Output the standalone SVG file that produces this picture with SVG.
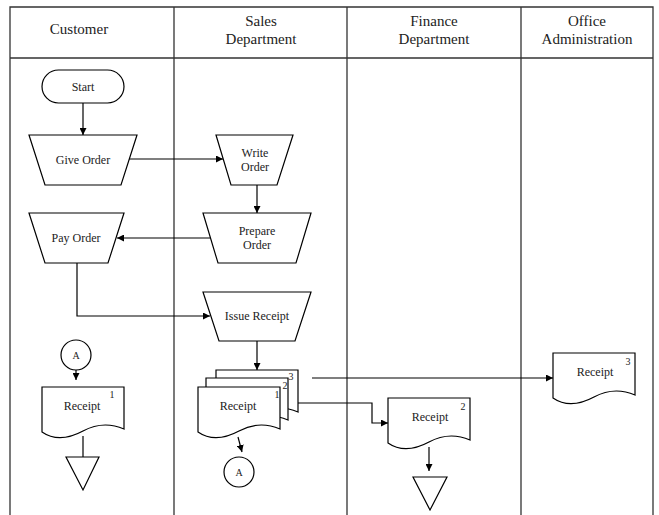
<svg xmlns="http://www.w3.org/2000/svg" width="659" height="515" viewBox="0 0 659 515">
<defs>
<marker id="ah" viewBox="0 0 10 10" refX="10" refY="5" markerWidth="7" markerHeight="7" markerUnits="userSpaceOnUse" orient="auto">
<path d="M0,0 L10,5 L0,10 Z" fill="#000"/>
</marker>
<path id="doc" d="M0,45 C13,54 28,51 41,44 C54,37 68,36 82,42 V0 H0 Z"/>
</defs>
<style>
.lane{fill:none;stroke:#333;stroke-width:1.3}
.shape{fill:#fff;stroke:#000;stroke-width:1.2}
.conn{fill:none;stroke:#000;stroke-width:1.2}
.hd{font-family:"Liberation Serif",serif;font-size:15px;fill:#222;text-anchor:middle}
.t{font-family:"Liberation Serif",serif;font-size:12px;fill:#222;text-anchor:middle}
.s{font-family:"Liberation Serif",serif;font-size:10px;fill:#222;text-anchor:middle}
</style>
<rect width="659" height="515" fill="#fff"/>
<g id="lanes">
<path class="lane" d="M10,516 V7 H653 V516 M10,58 H653 M174,7 V516 M347,7 V516 M521,7 V516"/>
<text class="hd" x="79" y="34">Customer</text>
<text class="hd" x="261" y="26">Sales</text>
<text class="hd" x="261" y="44">Department</text>
<text class="hd" x="434" y="26">Finance</text>
<text class="hd" x="434" y="44">Department</text>
<text class="hd" x="587" y="26">Office</text>
<text class="hd" x="587" y="44">Administration</text>
</g>
<g id="connectors">
<path class="conn" d="M83,103 V135" marker-end="url(#ah)"/>
<path class="conn" d="M129,159 H223" marker-end="url(#ah)"/>
<path class="conn" d="M257,185 V213" marker-end="url(#ah)"/>
<path class="conn" d="M210,238 H117" marker-end="url(#ah)"/>
<path class="conn" d="M77,263 V316 H210" marker-end="url(#ah)"/>
<path class="conn" d="M257,341 V370" marker-end="url(#ah)"/>
<path class="conn" d="M312,378 H553" marker-end="url(#ah)"/>
<path class="conn" d="M288,403 H372 V423 H388" marker-end="url(#ah)"/>
<path class="conn" d="M238,437 L242,452" marker-end="url(#ah)"/>
<path class="conn" d="M76,370 V380" marker-end="url(#ah)"/>
<path class="conn" d="M83,436 V467" marker-end="url(#ah)"/>
<path class="conn" d="M429,447 V471" marker-end="url(#ah)"/>
</g>
<g id="start">
<rect class="shape" x="42" y="70" width="82" height="33" rx="16.5"/>
<text class="t" x="83" y="90.5">Start</text>
</g>
<g id="give-order">
<path class="shape" d="M29,135 H137 L121,185 H45 Z"/>
<text class="t" x="83" y="164">Give Order</text>
</g>
<g id="write-order">
<path class="shape" d="M216,135 H293 L277,185 H231 Z"/>
<text class="t" x="255" y="157">Write</text>
<text class="t" x="255" y="171">Order</text>
</g>
<g id="prepare-order">
<path class="shape" d="M203,213 H311 L296,263 H218 Z"/>
<text class="t" x="257" y="235">Prepare</text>
<text class="t" x="257" y="249">Order</text>
</g>
<g id="pay-order">
<path class="shape" d="M29,213 H124 L108,263 H45 Z"/>
<text class="t" x="76" y="242">Pay Order</text>
</g>
<g id="issue-receipt">
<path class="shape" d="M203,292 H311 L295,341 H219 Z"/>
<text class="t" x="257" y="320">Issue Receipt</text>
</g>
<g id="connector-a-customer">
<circle class="shape" cx="76" cy="355" r="15"/>
<text class="s" x="76" y="358.5">A</text>
</g>
<g id="receipt-customer">
<use href="#doc" class="shape" x="42" y="387"/>
<text class="t" x="82" y="410">Receipt</text>
<text class="s" x="112" y="398">1</text>
</g>
<g id="store-customer">
<path class="shape" d="M66,457 H99 L83,490 Z"/>
</g>
<g id="receipt-multi">
<use href="#doc" class="shape" x="216" y="370"/>
<use href="#doc" class="shape" x="206" y="378"/>
<use href="#doc" class="shape" x="198" y="387"/>
<text class="t" x="238" y="410">Receipt</text>
<text class="s" x="291" y="380">3</text>
<text class="s" x="285" y="389">2</text>
<text class="s" x="277" y="398">1</text>
</g>
<g id="connector-a-sales">
<circle class="shape" cx="239" cy="472" r="15"/>
<text class="s" x="239" y="475.5">A</text>
</g>
<g id="receipt-finance">
<use href="#doc" class="shape" x="388" y="398"/>
<text class="t" x="430" y="421">Receipt</text>
<text class="s" x="463" y="410">2</text>
</g>
<g id="store-finance">
<path class="shape" d="M413,477 H447 L430,510 Z"/>
</g>
<g id="receipt-office">
<use href="#doc" class="shape" x="553" y="353"/>
<text class="t" x="595" y="376">Receipt</text>
<text class="s" x="628" y="365">3</text>
</g>
</svg>
